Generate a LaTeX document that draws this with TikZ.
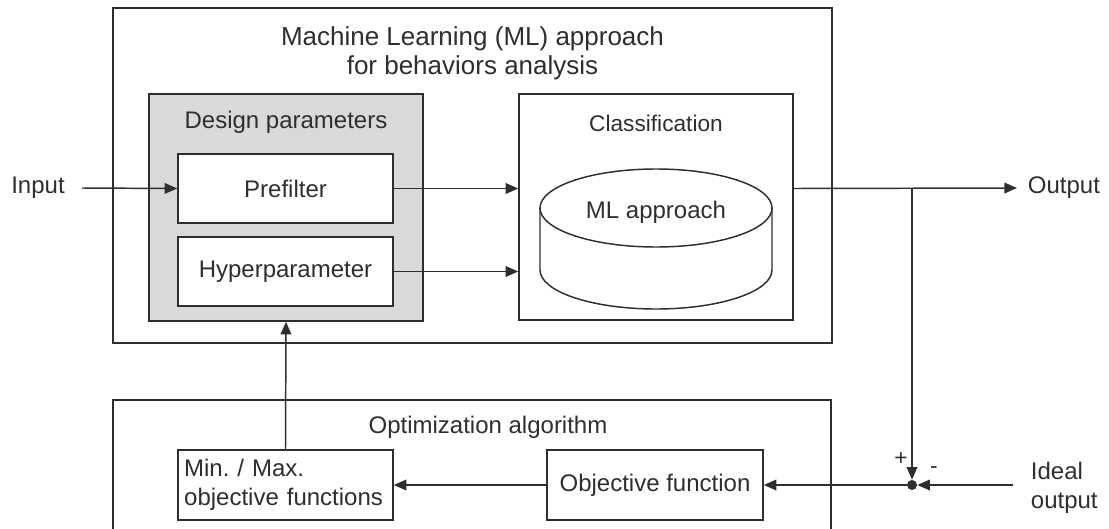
\documentclass[tikz,border=0pt]{standalone}
\usepackage{fontspec}
\setmainfont{Liberation Sans}
\usetikzlibrary{arrows.meta,calc}
\definecolor{ink}{HTML}{2E2E2E}
\definecolor{panel}{HTML}{D9D9D9}
\tikzset{
  lbl/.style={inner sep=0pt, text=ink, font=\fontsize{18}{21.75}\selectfont},
  box/.style={draw=ink, line width=1.1pt, rectangle, inner sep=0pt},
  flow/.style={draw=ink, line width=1.1pt, -{Triangle[length=9.5pt,width=8pt]}},
  wire/.style={draw=ink, line width=1.1pt},
}
\frenchspacing
\begin{document}
\begin{tikzpicture}[x=0.75pt,y=-0.75pt]
\useasboundingbox (0,0) rectangle (1109,528);
\clip (0,0) rectangle (1109,528);

% ML block with its title
\node[box, minimum width=539.25pt, minimum height=251.25pt] (mlbox) at (472.5,175.5) {};
\node[lbl, align=center, font=\fontsize{19.5}{21.75}\selectfont] (mltitle) at (472.5,53)
  {Machine Learning (ML) approach\\for behaviors analysis};

% design parameters panel
\node[box, fill=panel, minimum width=205.5pt, minimum height=170.25pt] (design) at (286,207.5) {};
\node[lbl] (designlbl) at (286,122) {Design parameters};
\node[box, fill=white, minimum width=161.25pt, minimum height=51.75pt] (pre) at (285.5,188.5) {};
\node[lbl] (prelbl) at (pre.center) {Prefilter};
\node[box, fill=white, minimum width=161.25pt, minimum height=51.75pt] (hyp) at (285.5,271.5) {};
\node[lbl] (hyplbl) at (hyp.center) {Hyperparameter};

% classification block with its cylinder
\node[box, minimum width=205.5pt, minimum height=169.5pt] (cls) at (656,207) {};
\node[lbl, font=\fontsize{17}{20}\selectfont] (clslbl) at (656,123) {Classification};
\coordinate (cyl) at (656,208);
\draw[wire] (540,208) -- (540,270) arc[start angle=180, end angle=360, x radius=87pt, y radius=29.25pt] -- (772,208);
\draw[wire] (cyl) ellipse [x radius=87pt, y radius=29.25pt];
\node[lbl] (mllbl) at (656,212) {ML approach};

% optimization block (runs past the lower edge)
\node[box, minimum width=538.5pt, minimum height=105pt] (opt) at (472,470) {};
\node[lbl] (optlbl) at (488,427) {Optimization algorithm};
\node[box, minimum width=161.25pt, minimum height=52.5pt, align=left, inner xsep=4.5pt,
      text width=152pt, text=ink, font=\fontsize{18}{21.75}\selectfont] (mm) at (285.5,485)
  {Min. / Max.\\objective functions};
\node[box, minimum width=162pt, minimum height=52.5pt] (obj) at (655,485) {};
\node[lbl] (objlbl) at (obj.center) {Objective function};

% outer labels
\node[lbl] (inlbl) at (38,188) {Input};
\coordinate (instart) at (82,188);
\node[lbl, anchor=west, inner xsep=8pt] (outlbl) at (1017,188) {Output};
\node[lbl, anchor=west, align=left, inner xsep=8pt] (ideallbl) at (1020,488) {Ideal\\output};
\coordinate (idealstart) at (1013,485);
\coordinate (br) at (912,188);

% summing junction
\node[circle, fill=ink, inner sep=0pt, minimum size=7.5pt] (sum) at (912,485) {};
\node[lbl, font=\fontsize{17}{18}\selectfont] (plus) at (901,459) {+};
\node[lbl, font=\fontsize{17}{18}\selectfont] (minus) at (934,470) {-};

% signal flow
\draw[flow] (instart) -- (pre.west);
\draw[flow] (pre.east) -- (pre.east -| cls.west);
\draw[flow] (hyp.east) -- (hyp.east -| cls.west);
\draw[flow] (pre.east -| cls.east) -- (outlbl.west);
\draw[flow] (br) -- (sum.north);
\draw[flow] (idealstart) -- (sum.east);
\draw[flow] (sum.west) -- (obj.east |- sum.west);
\draw[flow] (obj.west) -- (mm.east);
\draw[flow] (mm.north) -- (design.south);
\end{tikzpicture}
\end{document}
